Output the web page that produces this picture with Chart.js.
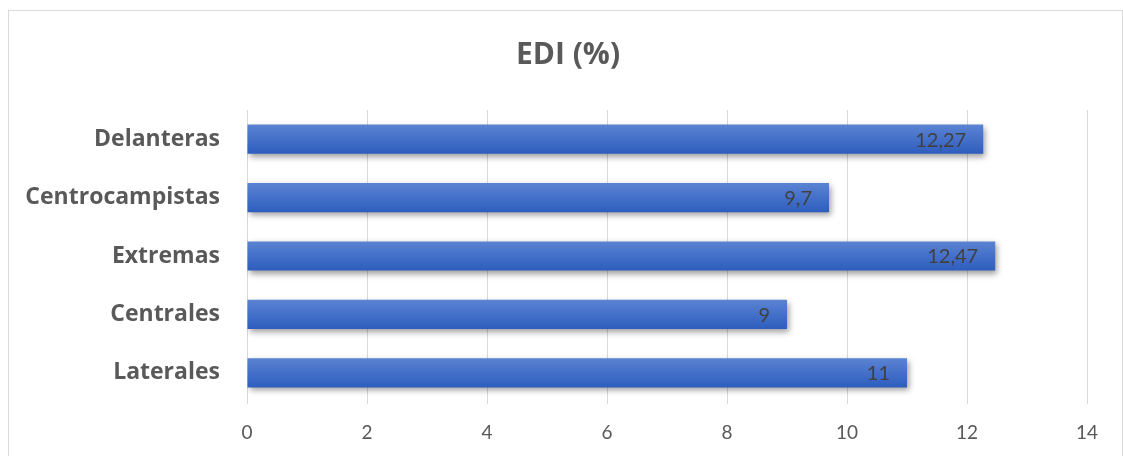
<!DOCTYPE html>
<html>
<head>
<meta charset="utf-8">
<script src="https://cdn.jsdelivr.net/npm/chart.js@4/dist/chart.umd.min.js"></script>
<style>
    html, body { margin: 0; padding: 0; background: #fff; }
    #wrap { position: relative; width: 1123px; height: 456px; overflow: hidden; }
    #frame { position: absolute; left: 8px; top: 10px; width: 1113px; height: 460px; border: 1px solid #d9d9d9; pointer-events: none; }
</style>
</head>
<body>
<div id="wrap">
    <canvas id="edi" width="1123" height="456"></canvas>
    <div id="frame"></div>
</div>
<script>
const categories = ['Delanteras', 'Centrocampistas', 'Extremas', 'Centrales', 'Laterales'];
const ediValues = [12.27, 9.7, 12.47, 9, 11];
const xTicks = [0, 2, 4, 6, 8, 10, 12, 14];

const FONT = 'Lato, "Open Sans", sans-serif';
const BOLD_FONT = '"Open Sans", Lato, sans-serif';

function barGradient(context) {
    const chart = context.chart;
    const yScale = chart.scales.y;
    if (!yScale || !chart.chartArea || context.dataIndex === undefined) return '#4472c4';
    const center = yScale.getPixelForValue(context.dataIndex);
    const half = (yScale.height / categories.length) * 0.25;
    const g = chart.ctx.createLinearGradient(0, center - half, 0, center + half);
    g.addColorStop(0, '#5b83d2');
    g.addColorStop(0.5, '#4470c9');
    g.addColorStop(1, '#2e5dbd');
    return g;
}

const barShadow = {
    id: 'barShadow',
    beforeDatasetDraw(chart) {
        const ctx = chart.ctx;
        ctx.save();
        ctx.shadowColor = 'rgba(0, 0, 0, 0.38)';
        ctx.shadowBlur = 6;
        ctx.shadowOffsetX = 2;
        ctx.shadowOffsetY = 3;
    },
    afterDatasetDraw(chart) {
        chart.ctx.restore();
    }
};

const barLabels = {
    id: 'barLabels',
    afterDatasetsDraw(chart) {
        const ctx = chart.ctx;
        const meta = chart.getDatasetMeta(0);
        ctx.save();
        ctx.font = '20px ' + FONT;
        ctx.fillStyle = '#404040';
        ctx.textAlign = 'right';
        ctx.textBaseline = 'middle';
        meta.data.forEach((bar, i) => {
            const text = String(ediValues[i]).replace('.', ',');
            ctx.fillText(text, bar.x - 17, bar.y + 1);
        });
        ctx.restore();
    }
};

new Chart(document.getElementById('edi'), {
    type: 'bar',
    data: {
        labels: categories,
        datasets: [{
            label: 'EDI (%)',
            data: ediValues,
            backgroundColor: barGradient,
            borderWidth: 0,
            categoryPercentage: 0.5,
            barPercentage: 1,
        }]
    },
    options: {
        indexAxis: 'y',
        responsive: false,
        animation: false,
        events: [],
        layout: {
            padding: { left: 49, right: 36, top: 0, bottom: 0 }
        },
        plugins: {
            legend: { display: false },
            tooltip: { enabled: false },
            title: {
                display: true,
                text: 'EDI (%)',
                color: '#595959',
                font: { family: BOLD_FONT, size: 30, weight: 'bold', lineHeight: 1.2 },
                padding: { top: 37, bottom: 37 },
            },
        },
        scales: {
            x: {
                min: 0,
                max: 14,
                afterBuildTicks: (scale) => {
                    scale.ticks = xTicks.map((v) => ({ value: v }));
                },
                afterFit: (scale) => { scale.height = 54; },
                grid: { color: '#d9d9d9', lineWidth: 1, drawTicks: true, tickLength: 2 },
                border: { display: false },
                ticks: {
                    color: '#595959',
                    font: { family: FONT, size: 19 },
                    padding: 17,
                },
            },
            y: {
                afterFit: (scale) => {
                    scale.width = 198;
                    // let the long category names run into the left padding
                    scale._computeLabelArea = () => undefined;
                },
                grid: { display: false },
                border: { display: false },
                ticks: {
                    color: '#595959',
                    font: { family: BOLD_FONT, size: 23, weight: 'bold' },
                    padding: 19,
                },
            },
        },
    },
    plugins: [barShadow, barLabels]
});
</script>
</body>
</html>
